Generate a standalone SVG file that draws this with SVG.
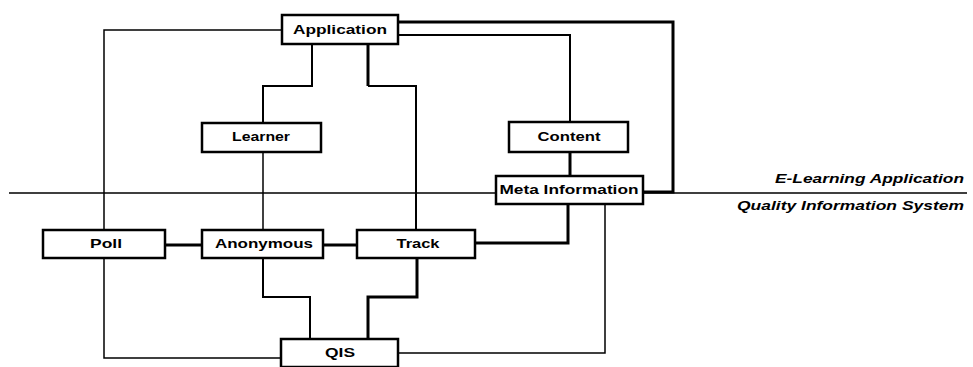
<svg xmlns="http://www.w3.org/2000/svg" width="973" height="367" viewBox="0 0 973 367">
<style>
.box{fill:#fff;stroke:#000;stroke-width:2.5}
.lbl{font-family:"Liberation Sans",Arial,sans-serif;font-weight:bold;font-size:12px;fill:#000;text-anchor:middle;dominant-baseline:central}
.side{font-family:"Liberation Sans",Arial,sans-serif;font-style:italic;font-weight:bold;font-size:12px;fill:#000;text-anchor:end}
.c{fill:none;stroke:#000;stroke-linejoin:miter}
.t1{stroke-width:1.5}.t2{stroke-width:2}.t3{stroke-width:3}
</style>
<rect width="973" height="367" fill="#fff"/>
<g id="connectors">
<path class="c t1" d="M9,193 H496 M643,193 H967"/>
<path class="c t1" d="M282,30 H104 V230"/>
<path class="c t1" d="M104,258 V358 H281"/>
<path class="c t2" d="M312,44 V86 H263 V123"/>
<path class="c t1" d="M263,152 V230"/>
<path class="c t3" d="M368,44 V86"/>
<path class="c t2" d="M368,86 H416 V230"/>
<path class="c t2" d="M398,35 H570 V122"/>
<path class="c t3" d="M398,22 H673 V192 H643"/>
<path class="c t3" d="M570,152 V176"/>
<path class="c t3" d="M165,245 H202"/>
<path class="c t3" d="M323,245 H357"/>
<path class="c t3" d="M568,204 V243 H475"/>
<path class="c t1" d="M605,204 V353 H398"/>
<path class="c t2" d="M263,258 V297 H310 V339"/>
<path class="c t3" d="M417,258 V297 H368 V339"/>
</g>
<g id="application"><rect class="box" x="282" y="15" width="116" height="29"/><text class="lbl" x="340" y="30" textLength="94" lengthAdjust="spacingAndGlyphs">Application</text></g>
<g id="learner"><rect class="box" x="202" y="123" width="119" height="29"/><text class="lbl" x="261" y="137" textLength="58" lengthAdjust="spacingAndGlyphs">Learner</text></g>
<g id="content"><rect class="box" x="509" y="122" width="119" height="30"/><text class="lbl" x="569" y="137" textLength="63" lengthAdjust="spacingAndGlyphs">Content</text></g>
<g id="meta-information"><rect class="box" x="496" y="176" width="147" height="28"/><text class="lbl" x="569" y="190" textLength="139" lengthAdjust="spacingAndGlyphs">Meta Information</text></g>
<g id="poll"><rect class="box" x="43" y="230" width="122" height="28"/><text class="lbl" x="106" y="244" textLength="32" lengthAdjust="spacingAndGlyphs">Poll</text></g>
<g id="anonymous"><rect class="box" x="202" y="230" width="121" height="28"/><text class="lbl" x="264" y="244" textLength="98" lengthAdjust="spacingAndGlyphs">Anonymous</text></g>
<g id="track"><rect class="box" x="357" y="230" width="118" height="28"/><text class="lbl" x="418" y="244" textLength="43" lengthAdjust="spacingAndGlyphs">Track</text></g>
<g id="qis"><rect class="box" x="281" y="339" width="117" height="28"/><text class="lbl" x="340" y="353" textLength="30" lengthAdjust="spacingAndGlyphs">QIS</text></g>
<g id="layer-labels">
<text class="side" x="964" y="183" textLength="189" lengthAdjust="spacingAndGlyphs">E-Learning Application</text>
<text class="side" x="964" y="210" textLength="227" lengthAdjust="spacingAndGlyphs">Quality Information System</text>
</g>
</svg>
